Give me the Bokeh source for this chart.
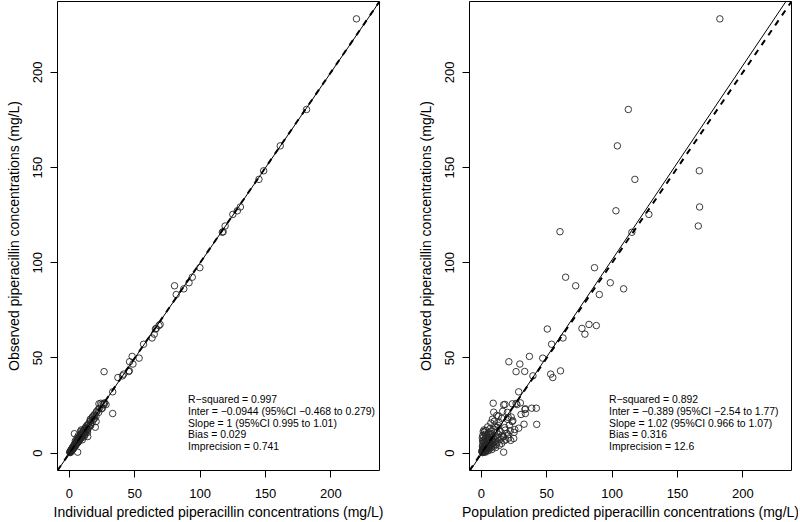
import numpy as np
from bokeh.plotting import figure
from bokeh.layouts import row
from bokeh.models import Range1d, FixedTicker, Slope, ColumnDataSource
from bokeh.core.properties import value
from bokeh.embed import file_html
from bokeh.resources import INLINE

# ---------------- data ----------------
# observed concentration, individual prediction, population prediction (mg/L)
observed = [
    228.1, 180.5, 161.4, 148.3, 143.8, 129.3, 127.3, 125.4, 119.3, 116.3, 116.0,
    97.4, 92.4, 89.5, 87.9, 86.3, 83.3, 67.6, 67.0, 65.5, 65.2, 62.5, 60.5, 57.2,
    50.8, 49.9, 48.0, 46.8, 43.2, 42.9, 42.8, 41.5, 40.6, 39.7, 32.2,
    26.4, 26.2, 26.1, 25.9, 25.6, 25.4, 25.5, 23.6, 23.6, 23.3, 22.9, 22.0, 21.5,
    21.4, 20.8, 20.3, 19.8, 18.8, 17.8, 17.7, 16.8, 16.6, 15.2, 15.1, 14.7, 13.6,
    13.1, 12.4, 10.2, 8.7, 7.7, 6.7, 0.5,
    12.8, 12.5, 12.1, 11.9, 11.6, 11.3, 11.0, 10.8, 10.6, 10.4, 10.1, 9.9, 9.7,
    9.5, 9.3, 9.1, 8.9, 8.7, 8.5, 8.3, 8.1, 7.9, 7.8, 7.6, 7.4, 7.3, 7.1, 6.9,
    6.8, 6.6, 6.5, 6.3, 6.2, 6.0, 5.9, 5.8, 5.6, 5.5, 5.4, 5.2, 5.1, 5.0, 4.9,
    4.8, 4.6, 4.5, 4.4, 4.3, 4.2, 4.1, 4.0, 3.9, 3.8, 3.7, 3.6, 3.5, 3.4, 3.3,
    3.2, 3.1, 3.0, 2.9, 2.8, 2.7, 2.6, 2.5, 2.4, 2.3, 2.2, 2.1, 2.0, 1.9, 1.8,
    1.7, 1.6, 1.5, 1.4, 1.3, 1.2, 1.1, 1.0, 0.9, 0.8, 0.7, 0.6, 0.5, 0.4, 0.3,
    14.2, 13.8, 14.5, 15.8, 16.2, 17.0, 18.3, 19.0, 19.4, 13.4, 11.8, 10.9, 9.6,
    8.6, 7.0, 12.2, 11.4, 9.2, 8.0, 6.4,
]
ipred = [
    219.6, 181.4, 161.3, 148.6, 145.0, 130.8, 128.5, 125.0, 119.1, 117.6, 117.0,
    99.8, 94.0, 91.5, 80.4, 87.5, 81.7, 69.4, 68.5, 66.4, 65.8, 64.9, 63.2, 56.7,
    48.0, 53.3, 46.0, 48.6, 45.8, 45.3, 26.5, 41.5, 40.6, 37.1, 33.1,
    27.0, 24.0, 26.5, 22.6, 24.8, 26.2, 28.0, 23.0, 25.2, 24.5, 22.0, 21.0, 20.5,
    22.4, 33.1, 19.3, 18.7, 17.6, 16.0, 18.5, 15.8, 20.4, 14.5, 16.2, 13.6, 19.8,
    12.2, 14.0, 3.8, 14.0, 8.5, 7.5, 6.3,
    11.9, 13.3, 10.8, 12.6, 11.0, 12.4, 9.6, 11.5, 10.1, 12.0, 9.2, 10.6, 8.8,
    10.3, 9.0, 7.9, 9.8, 8.1, 9.4, 7.4, 8.8, 7.2, 8.4, 6.9, 8.1, 7.0, 6.3, 7.7,
    6.2, 7.4, 5.8, 6.9, 5.6, 6.8, 5.2, 6.4, 5.0, 6.1, 4.8, 5.9, 4.6, 5.5, 4.3,
    5.3, 4.1, 5.0, 3.9, 4.8, 3.7, 4.5, 3.5, 4.4, 3.3, 4.2, 3.1, 4.0, 3.0, 3.8,
    2.8, 3.6, 2.6, 3.4, 2.4, 3.2, 2.2, 3.0, 2.1, 2.7, 1.9, 2.5, 1.7, 2.3, 1.5,
    2.1, 1.3, 1.9, 1.2, 1.6, 1.0, 1.4, 0.8, 1.2, 0.6, 1.0, 0.5, 0.8, 0.3, 0.5,
    13.0, 15.0, 16.3, 15.0, 17.4, 16.1, 19.2, 17.6, 20.3, 12.3, 13.6, 13.8, 11.9,
    11.2, 9.8, 9.0, 8.5, 6.8, 5.9, 4.5,
]
pred = [
    182.4, 112.4, 104.0, 166.7, 117.4, 166.9, 102.9, 128.1, 165.9, 60.1, 115.1,
    86.5, 64.4, 98.6, 72.1, 108.8, 90.2, 82.3, 87.9, 76.9, 50.4, 79.2, 62.4, 53.7,
    36.7, 46.9, 21.0, 29.4, 60.5, 33.1, 26.5, 53.0, 39.4, 54.6, 28.5,
    29.8, 9.0, 26.5, 23.7, 18.0, 17.0, 27.2, 38.5, 42.0, 33.6, 33.3, 16.3, 9.4,
    19.9, 33.6, 30.3, 11.7, 20.5, 8.4, 20.1, 9.9, 23.5, 32.6, 42.3, 21.4, 12.0,
    28.5, 25.5, 5.0, 16.5, 24.7, 22.4, 17.0,
    6.5, 9.8, 18.2, 3.5, 7.4, 14.6, 2.2, 11.8, 5.6, 19.4, 8.1, 2.9, 13.2,
    6.8, 16.0, 4.1, 10.5, 1.8, 7.7, 12.6, 5.0, 20.8, 3.0, 9.1, 14.9, 6.2, 2.5,
    11.0, 4.6, 8.3, 17.4, 1.5, 5.9, 10.0, 3.7, 12.1, 7.0, 2.1, 9.4, 4.4, 15.5,
    6.4, 1.2, 8.6, 3.3, 11.4, 5.3, 2.6, 7.2, 13.7, 4.0, 1.0, 6.1, 9.7, 2.9,
    5.1, 0.8, 7.9, 3.6, 4.8, 1.9, 10.9, 2.3, 5.7, 3.9, 1.4, 6.6, 2.7, 4.5,
    0.9, 3.1, 8.0, 1.6, 2.4, 4.2, 0.6, 2.0, 5.4, 1.1, 3.4, 0.4, 1.7, 2.8,
    0.5, 1.3, 3.0, 0.7, 1.0,
    10.2, 4.8, 12.9, 7.2, 13.5, 24.0, 15.5, 22.8, 13.0, 17.8, 22.0, 25.0, 20.2,
    16.8, 18.6, 2.0, 1.4, 1.0, 0.7, 0.9,
]

ticks = [0, 50, 100, 150, 200]
x_titles = ["Individual predicted piperacillin concentrations (mg/L)",
            "Population predicted piperacillin concentrations (mg/L)"]
y_title = "Observed piperacillin concentrations (mg/L)"

fit_ipred = {"inter": -0.0944, "slope": 1.0}
fit_pred = {"inter": -0.389, "slope": 1.02}

stats_ipred = ["R\u2212squared = 0.997",
               "Inter = \u22120.0944 (95%CI \u22120.468 to 0.279)",
               "Slope = 1 (95%CI 0.995 to 1.01)",
               "Bias = 0.029",
               "Imprecision  = 0.741"]
stats_pred = ["R\u2212squared = 0.892",
              "Inter = \u22120.389 (95%CI \u22122.54 to 1.77)",
              "Slope = 1.02 (95%CI 0.966 to 1.07)",
              "Bias = 0.316",
              "Imprecision  = 12.6"]

FONT = "Liberation Sans"

n = min(len(observed), len(ipred), len(pred))
obs_a = np.array(observed[:n])
ipred_a = np.array(ipred[:n])
pred_a = np.array(pred[:n])

hi = float(max(obs_a.max(), ipred_a.max(), pred_a.max()))
pad = 0.04 * hi
lo_lim, hi_lim = -pad, hi + pad


def panel(xvals, fit, stats, xtitle, border_left, border_right, text_x):
    p = figure(width=border_left + 322 + border_right, height=521,
               frame_width=322, frame_height=469,
               min_border_left=border_left, min_border_right=border_right,
               min_border_top=1, min_border_bottom=51,
               x_range=Range1d(lo_lim, hi_lim), y_range=Range1d(lo_lim, hi_lim),
               output_backend="svg", toolbar_location=None,
               background_fill_color="white", border_fill_color="white")
    p.grid.visible = False
    p.outline_line_color = "black"
    p.outline_line_width = 1
    for ax in (p.xaxis[0], p.yaxis[0]):
        ax.ticker = FixedTicker(ticks=ticks)
        ax.minor_tick_line_color = None
        ax.major_tick_in = 0
        ax.major_tick_out = 7
        ax.major_tick_line_color = "black"
        ax.axis_line_color = None
        ax.major_label_text_font = FONT
        ax.major_label_text_font_size = "13px"
        ax.major_label_text_color = "black"
        ax.axis_label_text_font = FONT
        ax.axis_label_text_font_size = "14px"
        ax.axis_label_text_font_style = "normal"
        ax.axis_label_text_color = "black"
    p.xaxis.axis_label = xtitle
    p.yaxis.axis_label = y_title
    p.xaxis.major_label_standoff = 11
    p.xaxis.axis_label_standoff = 3
    p.yaxis.major_label_orientation = "parallel"
    p.yaxis.major_label_standoff = 8
    p.yaxis.axis_label_standoff = 9

    src = ColumnDataSource(dict(x=xvals, y=obs_a))
    p.scatter("x", "y", source=src, marker="circle", size=6.5,
              fill_color=None, line_color="#262626", line_width=0.9)

    p.add_layout(Slope(gradient=fit["slope"], y_intercept=fit["inter"],
                       line_color="black", line_width=1))
    p.add_layout(Slope(gradient=1, y_intercept=0, line_color="black",
                       line_width=2, line_dash="6 6"))

    step = 6.2
    ys = [28.2 - i * step for i in range(len(stats))]
    tsrc = ColumnDataSource(dict(x=[text_x] * len(stats), y=ys, t=stats))
    p.text("x", "y", text="t", source=tsrc, text_font=value(FONT),
           text_font_size="10.4px", text_align="left", text_baseline="middle",
           text_color="black")
    return p


p1 = panel(ipred_a, fit_ipred, stats_ipred, x_titles[0], 57, 21, 90.8)
p2 = panel(pred_a, fit_pred, stats_pred, x_titles[1], 69, 7, 97.6)

layout = row(p1, p2)
open("out.html", "w").write(file_html(layout, INLINE))
